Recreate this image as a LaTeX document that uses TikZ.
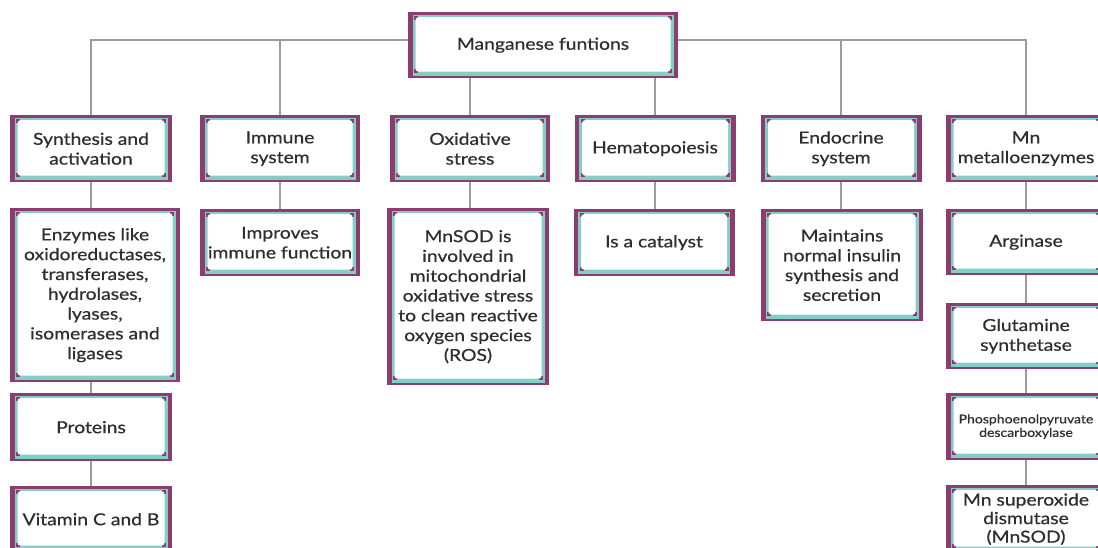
\documentclass[tikz,border=0pt]{standalone}
\usepackage{fontspec}
\setmainfont{Lato}[FakeStretch=1.17, FakeBold=0.6]
\usetikzlibrary{backgrounds}
\definecolor{plum}{HTML}{8E3B6F}
\definecolor{tealc}{HTML}{82CFC6}
\definecolor{linec}{HTML}{9C9C9C}
\definecolor{txt}{HTML}{2E2E2E}
\tikzset{
  fbox/.style={rectangle, fill=plum, inner sep=0pt, align=center, anchor=north,
    text=txt, font=\fontsize{16.5}{19.8}\selectfont,
    path picture={
      \fill[tealc] ([xshift=4.5pt,yshift=2.5pt]path picture bounding box.south west)
        rectangle ([xshift=-4.5pt,yshift=-2.5pt]path picture bounding box.north east);
      \fill[plum] ([xshift=6pt,yshift=5pt]path picture bounding box.south west) rectangle +(4pt,4pt);
      \fill[plum] ([xshift=-6pt,yshift=5pt]path picture bounding box.south east) rectangle +(-4pt,4pt);
      \fill[plum] ([xshift=6pt,yshift=-4pt]path picture bounding box.north west) rectangle +(4pt,-4pt);
      \fill[plum] ([xshift=-6pt,yshift=-4pt]path picture bounding box.north east) rectangle +(-4pt,-4pt);
      \fill[white, rounded corners=3pt] ([xshift=7.5pt,yshift=6.5pt]path picture bounding box.south west)
        rectangle ([xshift=-7.5pt,yshift=-5pt]path picture bounding box.north east);
    }},
  conn/.style={draw=linec, line width=1.8pt},
}
\begin{document}
\begin{tikzpicture}[x=1pt,y=-1pt]
\useasboundingbox (0,0) rectangle (1098,548);
\coordinate (hl) at (0,40);
% top
\node[fbox, minimum width=270pt, minimum height=66pt] (top) at (543,12) {Manganese funtions};
% level 1
\node[fbox, minimum width=162pt, minimum height=67pt] (s1) at (91,115) {Synthesis and\\activation};
\node[fbox, minimum width=160pt, minimum height=67pt] (s2) at (280,115) {Immune\\system};
\node[fbox, minimum width=160pt, minimum height=67pt] (s3) at (470,115) {Oxidative\\stress};
\node[fbox, minimum width=161pt, minimum height=67pt] (s4) at (655,115) {Hematopoiesis};
\node[fbox, minimum width=161pt, minimum height=67pt] (s5) at (841,115) {Endocrine\\system};
\node[fbox, minimum width=160pt, minimum height=67pt] (s6) at (1026,115) {Mn\\metalloenzymes};
% level 2
\node[fbox, minimum width=170pt, minimum height=174pt] (e1) at (95,208) {Enzymes like\\oxidoreductases,\\transferases,\\hydrolases,\\lyases,\\isomerases and\\ligases};
\node[fbox, minimum width=160pt, minimum height=67pt] (e2) at (280,209) {Improves\\immune function};
\node[fbox, minimum width=162pt, minimum height=177pt] (e3) at (468,208) {MnSOD is\\involved in\\mitochondrial\\oxidative stress\\to clean reactive\\oxygen species\\(ROS)};
\node[fbox, minimum width=161pt, minimum height=67pt] (e4) at (654,209) {Is a catalyst};
\node[fbox, minimum width=162pt, minimum height=112pt] (e5) at (842,209) {Maintains\\normal insulin\\synthesis and\\secretion};
\node[fbox, minimum width=160pt, minimum height=66pt] (e6) at (1026,209) {Arginase};
% level 3
\node[fbox, minimum width=162pt, minimum height=68pt] (p1) at (91,393) {Proteins};
\node[fbox, minimum width=162pt, minimum height=66pt] (p2) at (91,486) {Vitamin C and B};
\node[fbox, minimum width=160pt, minimum height=66pt] (g1) at (1026,303) {Glutamine\\synthetase};
\node[fbox, minimum width=160pt, minimum height=67pt, font=\fontsize{12}{13.5}\selectfont] (g2) at (1026,393) {Phosphoenolpyruvate\\descarboxylase};
\node[fbox, minimum width=160pt, minimum height=68pt, font=\fontsize{16.5}{18.5}\selectfont] (g3) at (1026,485) {Mn superoxide\\dismutase\\(MnSOD)};
% connectors
\begin{scope}[on background layer]
\draw[conn] (s1.north) -- (s1.north |- hl) -- (s6.north |- hl) -- (s6.north);
\draw[conn] (s2.north) -- (s2.north |- hl);
\draw[conn] (s5.north) -- (s5.north |- hl);
\draw[conn] (s3.north) -- (s3.north |- top.south);
\draw[conn] (s4.north) -- (s4.north |- top.south);
\draw[conn] (s1.south) -- (s1.south |- e1.north);
\draw[conn] (p1.north) -- (p1.north |- e1.south);
\draw[conn] (p1) -- (p2);
\draw[conn] (s2) -- (e2);
\draw[conn] (s3) -- (s3 |- e3.north);
\draw[conn] (s4) -- (s4 |- e4.north);
\draw[conn] (s5) -- (s5 |- e5.north);
\draw[conn] (s6) -- (e6);
\draw[conn] (e6) -- (g1);
\draw[conn] (g1) -- (g2);
\draw[conn] (g2) -- (g3);
\end{scope}
\end{tikzpicture}
\end{document}
